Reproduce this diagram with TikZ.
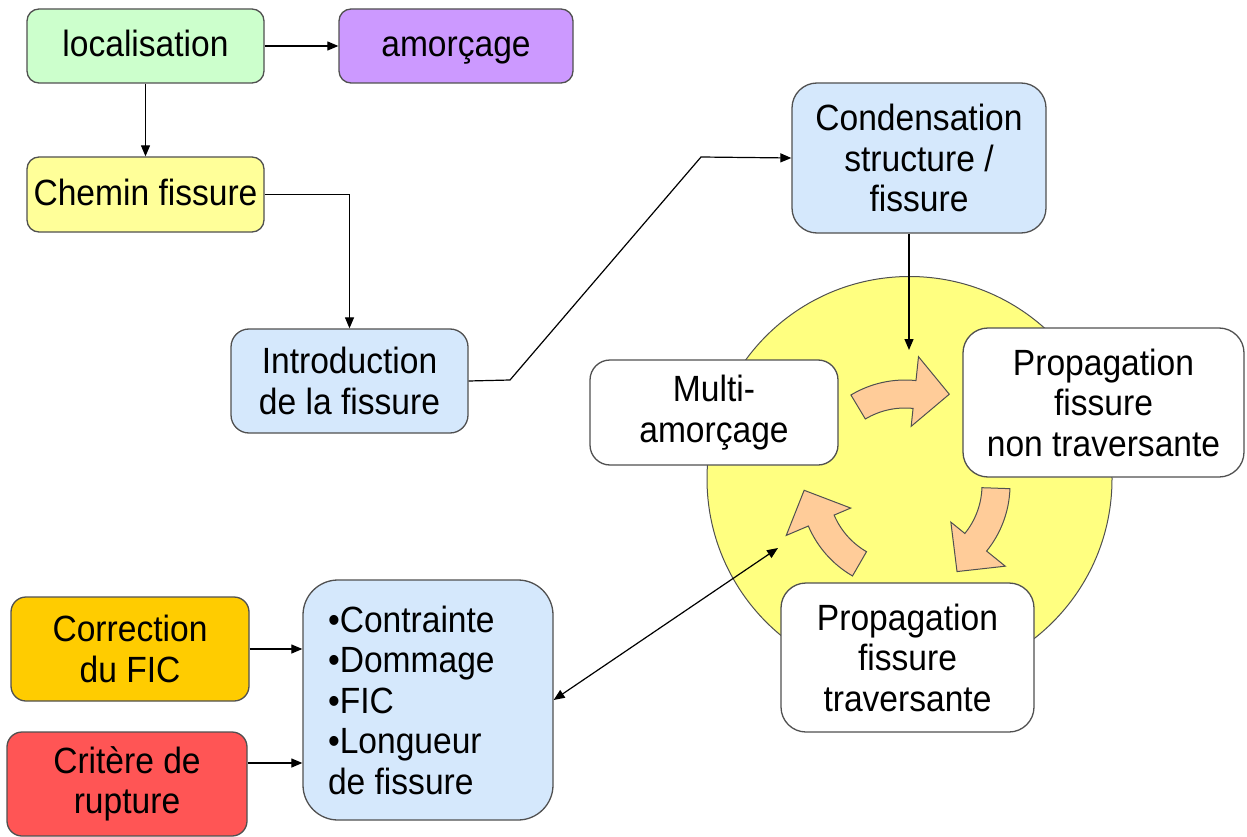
\documentclass[tikz,border=0pt]{standalone}
\usepackage{fontspec}
\setmainfont{Liberation Sans}[FakeStretch=0.92]
\usetikzlibrary{arrows.meta,calc}
\definecolor{cgreen}{HTML}{CCFFCC}
\definecolor{cpurple}{HTML}{CC99FF}
\definecolor{cyellow}{HTML}{FFFF99}
\definecolor{cblue}{HTML}{D5E8FC}
\definecolor{corange}{HTML}{FFCC00}
\definecolor{cred}{HTML}{FF5555}
\definecolor{ccircle}{HTML}{FFFF80}
\definecolor{cpeach}{HTML}{FFCC99}
\definecolor{cborder}{HTML}{505050}
\begin{document}
\begin{tikzpicture}[x=1pt,y=-1pt,
  box/.style={draw=cborder, line width=1.3pt, inner sep=0pt, align=flush center,
    font=\fontsize{36.5}{40.5}\selectfont},
  oneline/.style={text height=28pt, text depth=6pt},
  arr/.style={line width=1.2pt, -{Triangle[length=11pt,width=9pt]}},
  arrtwo/.style={line width=1.2pt, {Triangle[length=11pt,width=9pt]}-{Triangle[length=11pt,width=9pt]}},
  cyc/.style={draw=cborder, line width=1pt, fill=cpeach, line join=miter}]
\useasboundingbox (0,0) rectangle (1247,837);

% circle behind
\node[circle, draw=cborder, line width=1pt, fill=ccircle, minimum size=405pt, inner sep=0pt] (ring) at (909.5,479) {};

% cycle arrows
\begin{scope}[shift={(905,485)}, yscale=-1]
\foreach \t in {121,-2,-120}{
  \draw[cyc] (\t:105) arc[start angle=\t, end angle=\t-37, radius=105]
    -- (\t-37:129) -- (\t-57:101) -- (\t-37:59) -- (\t-37:77)
    arc[start angle=\t-37, end angle=\t, radius=77] -- cycle;
}
\end{scope}

% boxes
\node[box, oneline, fill=cgreen, rounded corners=12pt, minimum width=237pt, minimum height=74pt] (loc) at (145.5,46) {localisation};
\node[box, oneline, fill=cpurple, rounded corners=12pt, minimum width=234pt, minimum height=74pt] (amo) at (456,46) {amorçage};
\node[box, oneline, fill=cyellow, rounded corners=12pt, minimum width=237pt, minimum height=75pt] (chem) at (145.5,194.5) {Chemin fissure};
\node[box, fill=cblue, rounded corners=18pt, minimum width=237pt, minimum height=104pt] (intro) at (349.5,381) {Introduction\\de la fissure};
\node[box, fill=cblue, rounded corners=25pt, minimum width=254pt, minimum height=150pt] (cond) at (919,158) {Condensation\\structure /\\fissure};
\node[box, fill=white, rounded corners=20pt, minimum width=248pt, minimum height=105pt] (multi) at (714,412.5) {Multi-\\amorçage};
\node[box, fill=white, rounded corners=25pt, minimum width=281pt, minimum height=149pt] (pnt) at (1103.5,402.5) {Propagation\\fissure\\non traversante};
\node[box, fill=white, rounded corners=25pt, minimum width=253pt, minimum height=149pt] (pt) at (907.5,657.5) {Propagation\\fissure\\traversante};
\node[box, fill=cblue, rounded corners=35pt, minimum width=250pt, minimum height=240pt, text width=200pt, align=flush left] (cont) at (428,700) {•Contrainte\\•Dommage\\•FIC\\•Longueur\\de fissure};
\node[box, fill=corange, rounded corners=15pt, minimum width=238pt, minimum height=104pt] (corr) at (130,649) {Correction\\du FIC};
\node[box, fill=cred, rounded corners=15pt, minimum width=240pt, minimum height=104pt] (crit) at (127,784) {Critère de\\rupture};

% connectors
\coordinate (k1) at (510,380);
\coordinate (k2) at (701,157);
\coordinate (cend) at (909,350);
\coordinate (dend) at (778,548);
\draw[arr] (loc.east) -- (amo.west);
\draw[arr] (loc.south) -- (chem.north);
\draw[arr] (chem.east) -| (intro.north);
\draw[arr] (intro.east) -- (k1) -- (k2) -- (cond.west);
\draw[arr] (cend |- cond.south) -- (cend);
\draw[arrtwo] (cont.east) -- (dend);
\draw[arr] (corr.east) -- (corr.east -| cont.west);
\draw[arr] ([yshift=21pt]crit.east) -- ([yshift=21pt]crit.east -| cont.west);
\end{tikzpicture}
\end{document}
